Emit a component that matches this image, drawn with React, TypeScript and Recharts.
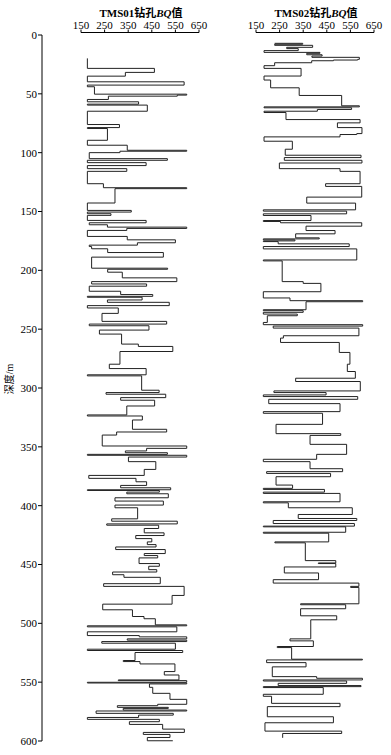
import { LineChart, Line, XAxis, YAxis } from "recharts";

// TMS01: depth (m) where the BQ value changes, and the new BQ value
const depth01 = [
  19.9, 28.4, 31.8, 35.0, 39.8, 42.6, 44.0, 50.3, 51.1, 52.0, 54.8, 56.8, 58.8, 59.6, 64.8, 76.1, 78.7, 79.5, 89.5, 93.7,
  98.0, 98.8, 100.0, 105.1, 106.5, 108.5, 111.0, 113.6, 115.9,
  126.4, 129.8, 130.6, 142.8, 149.1, 150.5, 151.9, 153.3, 157.6, 159.6, 161.3, 163.3, 164.4, 166.1, 171.2, 174.1, 176.6,
  178.6, 179.8, 181.7, 184.9, 188.8, 198.2, 199.1, 201.6, 206.4, 209.6, 211.6, 213.5, 217.8, 220.6, 222.1, 222.9, 225.2,
  227.2, 230.0, 232.0,
  236.6, 243.4, 245.7, 247.1, 250.8, 254.2, 262.7, 264.7, 269.0, 279.8, 283.5, 288.8, 289.7, 301.9, 303.9, 305.3, 308.2,
  310.4, 315.3, 322.9, 323.8, 327.2, 335.1, 337.4, 340.0,
  349.3, 351.3, 353.5, 355.0, 356.4, 357.2, 358.7, 362.6, 369.2, 374.3, 376.8, 379.7, 382.8, 384.8, 386.5, 387.1, 388.5,
  389.9, 393.3, 396.1, 399.5, 401.8, 411.2, 413.2, 415.5, 416.6, 419.4, 423.1, 425.4, 428.0, 430.8, 433.1, 435.1, 437.3,
  440.7, 442.4, 444.4, 449.2, 451.5, 454.4,
  456.4, 458.7, 460.9, 466.3, 468.6, 476.3, 483.7, 488.5, 494.2, 496.1, 501.3, 502.1, 503.0, 507.2, 510.4, 511.5, 513.2,
  514.3, 515.5, 516.9, 522.0, 523.1, 524.8, 531.6, 532.5, 534.5, 541.0, 543.9, 548.1, 548.7, 550.1, 550.7, 551.5, 554.4,
  559.5, 564.6, 568.8, 570.0, 571.4, 572.3, 573.7, 574.5, 576.5, 578.0, 580.0, 581.6, 583.6, 585.9, 589.9, 592.7, 594.4,
  597.0, 599.8,
];
const bq01 = [
  177, 461, 338, 177, 587, 177, 207, 598, 558, 266, 177, 394, 177, 431, 177, 313, 177, 262, 177, 346,
  598, 315, 185, 516, 177, 426, 177, 344, 177,
  245, 598, 294, 177, 363, 177, 277, 177, 426, 185, 262, 598, 344, 177, 346, 550, 389,
  185, 195, 263, 499, 195, 517, 263, 325, 556, 195, 428, 185, 318, 454, 177, 409, 262,
  524, 177, 308,
  239, 513, 185, 438, 228, 322, 393, 539, 315, 270, 426, 177, 407, 481, 256, 509, 318,
  462, 344, 177, 410, 368, 513, 301, 240,
  598, 428, 338, 516, 177, 598, 351, 467, 418, 183, 383, 428, 318, 530, 177, 482, 344,
  520, 294, 499, 294, 390, 280, 558, 259, 479, 418, 502, 382, 450, 431, 468, 297, 507,
  418, 475, 396, 482, 437, 471,
  284, 332, 486, 246, 587, 536, 242, 368, 417, 465, 598, 177, 556, 177, 397, 598, 346,
  598, 238, 550, 177, 581, 379, 329, 400, 548, 503, 565, 308, 598, 177, 598, 440, 454,
  527, 598, 475, 304, 520, 329, 598, 214, 541, 394, 177, 482, 355, 496, 588, 414, 527,
  431, 539,
];

// TMS02
const depth02 = [
  7.1, 7.1, 7.9, 8.8, 10.5, 11.6, 13.3, 14.8, 15.6, 16.8, 17.9, 19.0, 20.7, 21.3, 21.9, 23.6, 26.1, 28.4, 34.9, 38.3,
  44.9, 51.4, 60.2, 61.1, 61.9, 63.3, 64.8, 65.9, 71.9, 74.7, 78.7, 83.8, 84.6, 86.6, 90.3, 97.1, 102.2, 104.2, 106.5,
  108.8, 113.6,
  115.9, 126.4, 128.7, 137.8, 142.9, 148.6, 149.7, 152.0, 153.4, 157.7, 158.5, 159.6, 162.5, 166.2, 169.0, 172.4, 173.3,
  174.1, 175.0, 175.6, 177.5, 179.8, 181.8, 191.2, 192.0, 209.6, 211.1, 218.2, 223.5, 225.8, 226.7, 233.5,
  234.3, 235.7, 237.2, 238.6, 244.3, 246.2, 247.4, 249.1, 255.6, 257.6, 261.3, 269.8, 279.8, 286.0, 291.7, 294.5, 302.5,
  303.9, 305.9, 307.3, 309.6, 313.3, 320.1, 321.5, 330.9, 338.8, 340.3,
  347.9, 356.4, 360.6, 362.6, 368.6, 371.1, 372.6, 375.4, 382.5, 385.3, 386.2, 388.5, 389.6, 396.7, 397.6, 401.8, 407.5,
  410.9, 412.6, 415.2, 417.4, 418.0, 422.6, 423.4, 430.8, 431.6, 446.7, 448.7, 449.2, 452.1,
  457.2, 462.9, 465.8, 468.6, 469.5, 483.4, 484.2, 487.6, 493.6, 497.0, 513.2, 514.9, 519.7, 520.6, 530.5, 531.1, 533.4,
  537.0, 545.3, 546.7, 548.1, 549.0, 551.0, 552.9, 553.8, 554.6, 560.3, 562.0, 568.0, 570.8, 579.4, 584.5, 591.6, 593.6,
  597.3,
];
const bq02 = [
  229, 348, 229, 390, 280, 329, 184, 421, 365, 430, 387, 588, 581, 478, 386, 229, 184, 341, 184, 212,
  333, 513, 588, 184, 555, 410, 184, 277, 591, 495, 599, 577, 506, 184, 304, 274, 595, 270, 599,
  249, 506,
  591, 445, 598, 365, 572, 181, 534, 181, 383, 181, 254, 598, 362, 485, 318, 418, 181,
  315, 181, 244, 545, 181, 577, 181, 261, 350, 425, 181, 294, 602, 362, 181,
  350, 181, 325, 198, 181, 602, 223, 586, 266, 254, 503, 548, 537, 571, 318, 592, 226,
  447, 181, 581, 204, 506, 181, 432, 235, 509, 379,
  534, 407, 181, 379, 517, 195, 466, 235, 305, 181, 440, 181, 506, 181, 287, 558, 329,
  577, 223, 567, 181, 530, 181, 458, 230, 359, 488, 414, 488, 270,
  415, 223, 586, 551, 586, 339, 530, 339, 492, 382, 294, 393, 240, 301, 601, 195, 362,
  219, 407, 601, 181, 534, 244, 595, 181, 435, 181, 216, 506, 198, 478, 188, 513, 263,
  263,
];

const bqTicks = [150, 250, 350, 450, 550, 650];
const depthTicks = [0, 50, 100, 150, 200, 250, 300, 350, 400, 450, 500, 550, 600];

const serif = "'Liberation Serif', 'Noto Sans CJK SC', serif";
const tickStyle = { fontSize: 11, fill: "#000", fontFamily: serif };

function toRows(depths: number[], values: number[]) {
  return depths.map((d, i) => ({ depth: d, bq: values[i] }));
}

function Panel({ depths, values, left }: { depths: number[]; values: number[]; left: number }) {
  return (
    <div style={{ position: "absolute", left: 0, top: 0 }}>
      <LineChart
        width={391}
        height={755}
        layout="vertical"
        data={toRows(depths, values)}
        margin={{ top: 7.5, left, right: 391 - left - 118, bottom: 14 }}
      >
        <XAxis
          type="number"
          orientation="top"
          domain={[150, 650]}
          ticks={bqTicks}
          height={25}
          tick={tickStyle}
          tickSize={3}
          tickMargin={1}
          interval={0}
          stroke="#000"
        />
        <YAxis type="number" dataKey="depth" domain={[-2.1, 600]} hide />
        <Line
          dataKey="bq"
          type="stepBefore"
          stroke="#222"
          strokeWidth={1}
          dot={false}
          isAnimationActive={false}
        />
      </LineChart>
    </div>
  );
}

const titleStyle = {
  position: "absolute" as const,
  top: 5,
  width: 200,
  textAlign: "center" as const,
  fontFamily: serif,
  fontSize: 11,
  fontWeight: "bold" as const,
  lineHeight: "16px",
  color: "#000",
};

export default function App() {
  return (
    <div style={{ position: "fixed", left: 0, top: 0, width: 391, height: 755, background: "#fff", overflow: "hidden" }}>
      <div style={{ position: "absolute", left: 0, top: 0 }}>
        <LineChart
          width={60}
          height={755}
          layout="vertical"
          data={toRows(depth01, bq01)}
          margin={{ top: 35, left: 0, right: 10, bottom: 14 }}
        >
          <XAxis type="number" domain={[150, 650]} hide />
          <YAxis
            type="number"
            dataKey="depth"
            domain={[0, 600]}
            ticks={depthTicks}
            interval={0}
            width={42}
            tick={tickStyle}
            tickSize={4}
            tickMargin={1}
            stroke="#000"
          />
        </LineChart>
      </div>
      <Panel depths={depth01} values={bq01} left={81} />
      <Panel depths={depth02} values={bq02} left={256} />
      <div style={{ ...titleStyle, left: 41 }}>
        TMS01钻孔<i>BQ</i>值
      </div>
      <div style={{ ...titleStyle, left: 216 }}>
        TMS02钻孔<i>BQ</i>值
      </div>
      <div
        style={{
          position: "absolute",
          left: -10,
          top: 372,
          width: 40,
          textAlign: "center",
          transform: "rotate(-90deg)",
          fontFamily: serif,
          fontSize: 10,
          lineHeight: "14px",
          color: "#000",
        }}
      >
        深度/m
      </div>
    </div>
  );
}
